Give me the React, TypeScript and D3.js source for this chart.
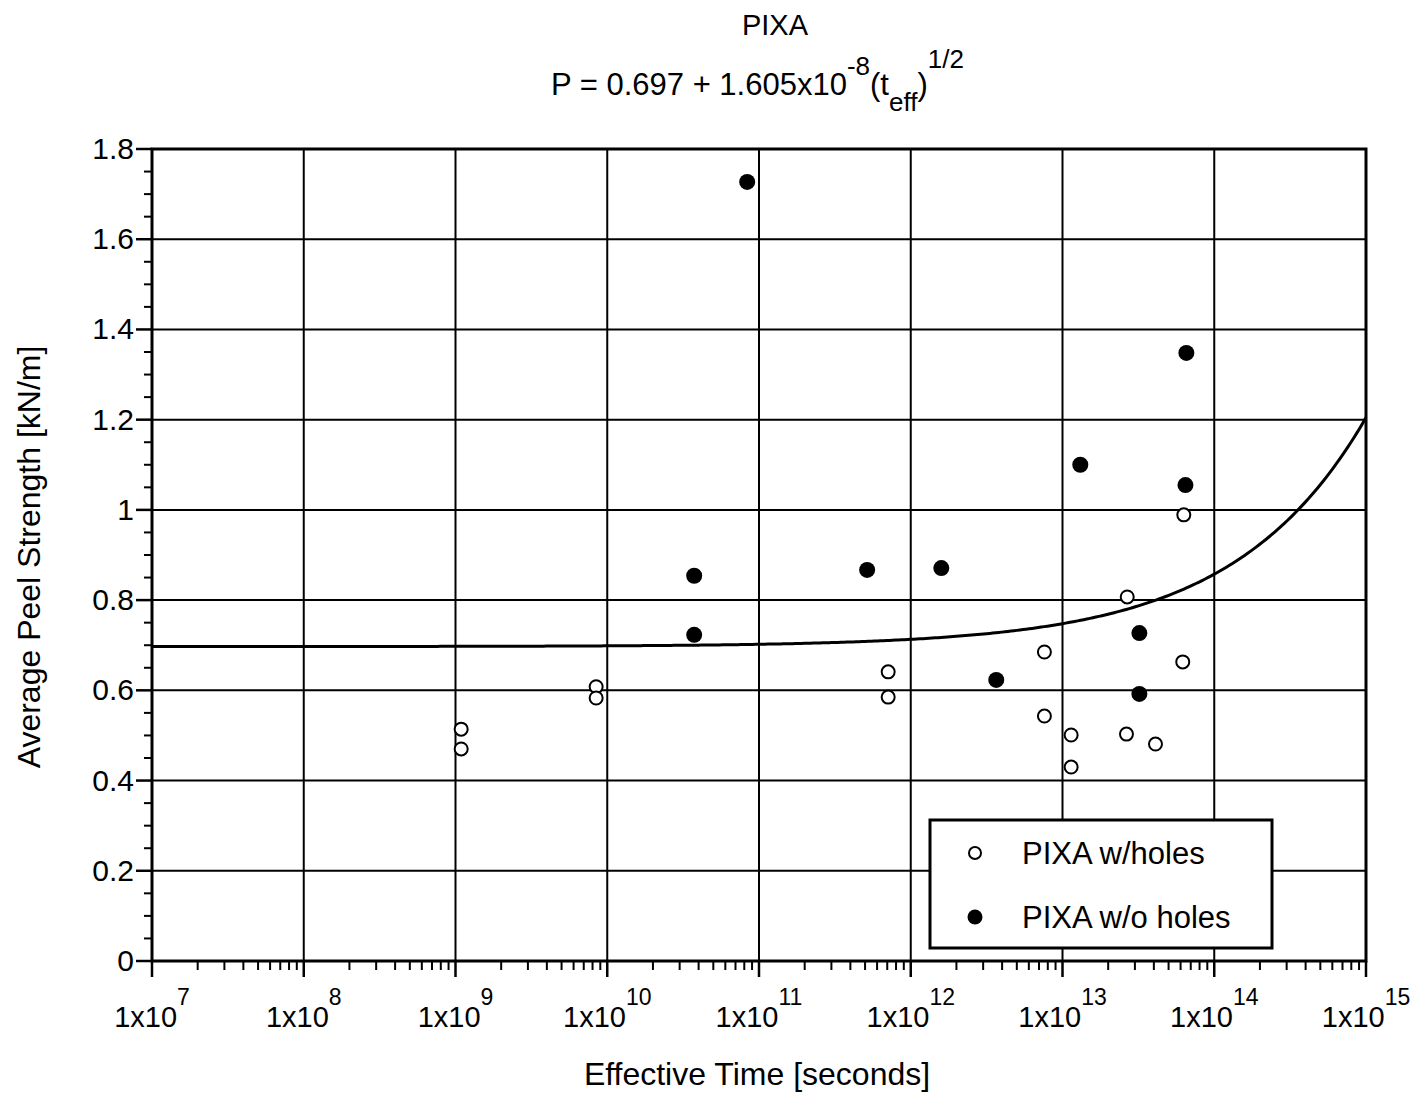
import { useRef, useEffect } from 'react'
import * as d3 from 'd3'

const FONT = '"Liberation Sans", Arial, Helvetica, sans-serif'

// open circles: PIXA w/holes
const holesTime = [1.09e9, 1.09e9, 8.45e9, 8.45e9, 7.1e11, 7.1e11, 7.6e12, 7.6e12, 1.14e13, 1.14e13, 2.64e13, 2.67e13, 4.1e13, 6.2e13, 6.3e13]
const holesPeel = [0.514, 0.47, 0.608, 0.583, 0.641, 0.585, 0.685, 0.543, 0.501, 0.43, 0.503, 0.807, 0.481, 0.663, 0.989]

// filled circles: PIXA w/o holes
const solidTime = [3.74e10, 3.74e10, 8.36e10, 5.16e11, 1.59e12, 3.66e12, 1.31e13, 3.21e13, 3.21e13, 6.46e13, 6.55e13]
const solidPeel = [0.854, 0.723, 1.727, 0.867, 0.871, 0.623, 1.1, 0.727, 0.592, 1.055, 1.348]

// fit P = a + b * t^(1/2)
const fitA = 0.697
const fitB = 1.605e-8

const xTickExp = [7, 8, 9, 10, 11, 12, 13, 14, 15]
const yTicks = [0, 0.2, 0.4, 0.6, 0.8, 1, 1.2, 1.4, 1.6, 1.8]
const yTickLabels = ['0', '0.2', '0.4', '0.6', '0.8', '1', '1.2', '1.4', '1.6', '1.8']

const legendLabels = ['PIXA w/holes', 'PIXA w/o holes']

const width = 1423
const height = 1096
const margin = { left: 152, right: 57, top: 149, bottom: 135 }

export default function App() {
  const svgRef = useRef<SVGSVGElement>(null)

  useEffect(() => {
    if (!svgRef.current) return
    const pw = width - margin.left - margin.right
    const ph = height - margin.top - margin.bottom

    const svg = d3.select(svgRef.current)
    svg.selectAll('*').remove()

    svg.append('rect').attr('width', width).attr('height', height).attr('fill', '#fff')

    const g = svg.append('g').attr('transform', `translate(${margin.left},${margin.top})`)

    const x = d3.scaleLog().domain([1e7, 1e15]).range([0, pw])
    const y = d3.scaleLinear().domain([0, 1.8]).range([ph, 0])

    // grid
    g.selectAll('.hgrid')
      .data(yTicks)
      .join('line')
      .attr('x1', 0)
      .attr('x2', pw)
      .attr('y1', (d) => y(d))
      .attr('y2', (d) => y(d))
      .attr('stroke', '#000')
      .attr('stroke-width', 2)

    g.selectAll('.vgrid')
      .data(xTickExp)
      .join('line')
      .attr('x1', (d) => x(Math.pow(10, d)))
      .attr('x2', (d) => x(Math.pow(10, d)))
      .attr('y1', 0)
      .attr('y2', ph)
      .attr('stroke', '#000')
      .attr('stroke-width', 2)

    // minor ticks x
    const minorX: number[] = []
    xTickExp.slice(0, -1).forEach((e) => {
      for (let k = 2; k <= 9; k++) minorX.push(k * Math.pow(10, e))
    })
    g.selectAll('.mx')
      .data(minorX)
      .join('line')
      .attr('x1', (d) => x(d))
      .attr('x2', (d) => x(d))
      .attr('y1', ph)
      .attr('y2', ph + 9)
      .attr('stroke', '#000')
      .attr('stroke-width', 2)

    g.selectAll('.Mx')
      .data(xTickExp)
      .join('line')
      .attr('x1', (d) => x(Math.pow(10, d)))
      .attr('x2', (d) => x(Math.pow(10, d)))
      .attr('y1', ph)
      .attr('y2', ph + 16)
      .attr('stroke', '#000')
      .attr('stroke-width', 2.5)

    // minor ticks y
    const minorY = d3.range(0, 36).map((i) => i * 0.05).filter((v, i) => i % 4 !== 0)
    g.selectAll('.my')
      .data(minorY)
      .join('line')
      .attr('x1', -8)
      .attr('x2', 0)
      .attr('y1', (d) => y(d))
      .attr('y2', (d) => y(d))
      .attr('stroke', '#000')
      .attr('stroke-width', 2)

    g.selectAll('.My')
      .data(yTicks)
      .join('line')
      .attr('x1', -16)
      .attr('x2', 0)
      .attr('y1', (d) => y(d))
      .attr('y2', (d) => y(d))
      .attr('stroke', '#000')
      .attr('stroke-width', 2.5)

    // frame
    g.append('rect')
      .attr('width', pw)
      .attr('height', ph)
      .attr('fill', 'none')
      .attr('stroke', '#000')
      .attr('stroke-width', 3)

    // y tick labels
    g.selectAll('.ylab')
      .data(yTicks)
      .join('text')
      .attr('x', -18)
      .attr('y', (d) => y(d) + 10)
      .attr('text-anchor', 'end')
      .attr('font-family', FONT)
      .attr('font-size', 30)
      .text((_, i) => yTickLabels[i])

    // x tick labels 1x10^n
    const xl = g
      .selectAll('.xlab')
      .data(xTickExp)
      .join('text')
      .attr('x', (d) => x(Math.pow(10, d)))
      .attr('y', ph + 66)
      .attr('text-anchor', 'middle')
      .attr('font-family', FONT)
      .attr('font-size', 29)
    xl.append('tspan').text('1x10')
    xl.append('tspan')
      .attr('dy', -22)
      .attr('font-size', 23)
      .text((d) => String(d))

    // fit curve
    const curveExp = d3.range(7, 15.0001, 0.02)
    const line = d3
      .line<number>()
      .x((e) => x(Math.pow(10, e)))
      .y((e) => y(fitA + fitB * Math.sqrt(Math.pow(10, e))))
    g.append('path')
      .datum(curveExp)
      .attr('d', line)
      .attr('fill', 'none')
      .attr('stroke', '#000')
      .attr('stroke-width', 3)

    // points
    g.selectAll('.open')
      .data(holesTime)
      .join('circle')
      .attr('cx', (d) => x(d))
      .attr('cy', (_, i) => y(holesPeel[i]))
      .attr('r', 6.5)
      .attr('fill', '#fff')
      .attr('stroke', '#000')
      .attr('stroke-width', 2)

    g.selectAll('.solid')
      .data(solidTime)
      .join('circle')
      .attr('cx', (d) => x(d))
      .attr('cy', (_, i) => y(solidPeel[i]))
      .attr('r', 8)
      .attr('fill', '#000')

    // legend
    const lg = svg.append('g').attr('transform', 'translate(930,820)')
    lg.append('rect')
      .attr('width', 342)
      .attr('height', 128)
      .attr('fill', '#fff')
      .attr('stroke', '#000')
      .attr('stroke-width', 3)
    lg.append('circle').attr('cx', 45).attr('cy', 33).attr('r', 6).attr('fill', '#fff').attr('stroke', '#000').attr('stroke-width', 2)
    lg.append('circle').attr('cx', 45).attr('cy', 97).attr('r', 7.5).attr('fill', '#000')
    lg.selectAll('.lt')
      .data(legendLabels)
      .join('text')
      .attr('x', 92)
      .attr('y', (_, i) => 44 + i * 64)
      .attr('font-family', FONT)
      .attr('font-size', 31)
      .text((d) => d)

    // titles
    svg.append('text')
      .attr('x', 775)
      .attr('y', 35)
      .attr('text-anchor', 'middle')
      .attr('font-family', FONT)
      .attr('font-size', 29)
      .text('PIXA')

    const ft = svg.append('text')
      .attr('x', 551)
      .attr('y', 95)
      .attr('font-family', FONT)
      .attr('font-size', 31)
    ft.append('tspan').text('P = 0.697 + 1.605x10')
    ft.append('tspan').attr('dy', -20).attr('font-size', 26).text('-8')
    ft.append('tspan').attr('dy', 20).text('(t')
    ft.append('tspan').attr('dy', 16).attr('font-size', 26).text('eff')
    ft.append('tspan').attr('dy', -16).text(')')
    ft.append('tspan').attr('dy', -27).attr('font-size', 26).text('1/2')

    // axis titles
    svg.append('text')
      .attr('x', 757)
      .attr('y', 1085)
      .attr('text-anchor', 'middle')
      .attr('font-family', FONT)
      .attr('font-size', 32)
      .text('Effective Time [seconds]')

    svg.append('text')
      .attr('transform', 'translate(40,557) rotate(-90)')
      .attr('text-anchor', 'middle')
      .attr('font-family', FONT)
      .attr('font-size', 32)
      .text('Average Peel Strength [kN/m]')
  }, [])

  return (
    <svg
      ref={svgRef}
      width={width}
      height={height}
      style={{ position: 'absolute', left: 0, top: 0 }}
    />
  )
}
